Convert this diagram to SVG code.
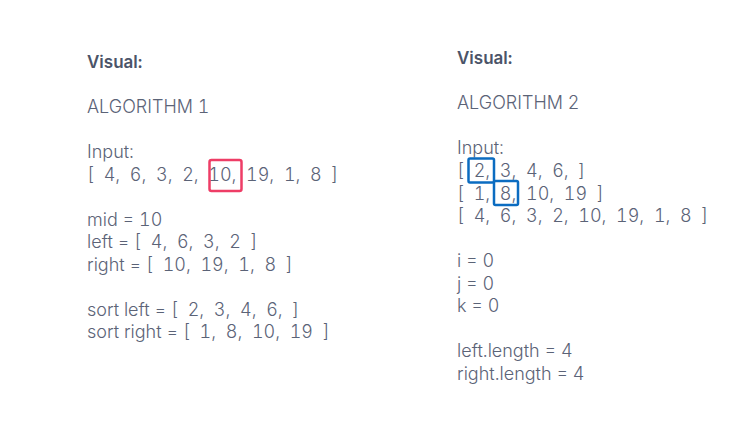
<svg xmlns="http://www.w3.org/2000/svg" width="732" height="433" viewBox="0 0 732 433">
<style>
text{font-family:Inter,"Noto Sans","Liberation Sans",sans-serif;font-size:18px;font-weight:300;fill:#5b6377;white-space:pre;font-variant-numeric:tabular-nums}
.h{font-size:17px;font-weight:600;fill:#4b5468}
.red{fill:none;stroke:#ee3d66;stroke-width:2.5}
.blue{fill:none;stroke:#0b6cc1;stroke-width:2.5}
</style>
<rect width="732" height="433" fill="#ffffff"/>
<g id="algorithm1">
<text class="h" x="87" y="68">Visual:</text>
<text x="87" y="113">ALGORITHM 1</text>
<text x="87" y="158">Input:</text>
<text x="87" y="180.5">[  4,  6,  3,  2,  10,  19,  1,  8  ]</text>
<text x="87" y="225.5">mid = 10</text>
<text x="87" y="248">left = [  4,  6,  3,  2  ]</text>
<text x="87" y="270.5">right = [  10,  19,  1,  8  ]</text>
<text x="87" y="315.5">sort left = [  2,  3,  4,  6,  ]</text>
<text x="87" y="338">sort right = [  1,  8,  10,  19  ]</text>
<rect id="pivot" class="red" x="209.5" y="160" width="32" height="31" rx="2"/>
</g>
<g id="algorithm2">
<text class="h" x="457" y="63.5">Visual:</text>
<text x="457" y="109">ALGORITHM 2</text>
<text x="457" y="154">Input:</text>
<text x="457" y="177">[  2,  3,  4,  6,  ]</text>
<text x="457" y="199.5">[  1,  8,  10,  19  ]</text>
<text x="457" y="222">[  4,  6,  3,  2,  10,  19,  1,  8  ]</text>
<text x="457" y="267">i = 0</text>
<text x="457" y="289.5">j = 0</text>
<text x="457" y="312">k = 0</text>
<text x="457" y="357">left.length = 4</text>
<text x="457" y="379.5">right.length = 4</text>
<rect id="ptr-i" class="blue" x="468.5" y="158.5" width="25.5" height="24" rx="1.5"/>
<rect id="ptr-j" class="blue" x="494" y="181" width="24" height="24" rx="1.5"/>
</g>
</svg>
